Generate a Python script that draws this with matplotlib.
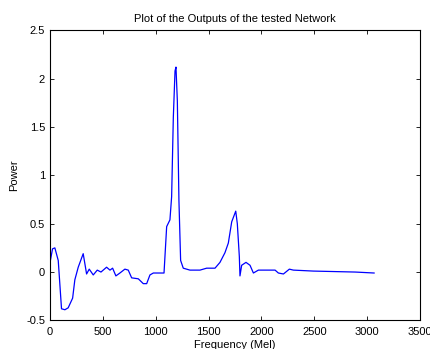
import matplotlib
matplotlib.use('Agg')
import matplotlib.pyplot as plt

# values
freq = [0, 25, 47, 79, 110, 142, 173, 215, 236, 268, 315, 347, 372, 410, 448,
        483, 536, 568, 593, 624, 662, 709, 741, 773, 836, 883, 915, 946, 978,
        1041, 1079, 1104, 1135, 1151, 1167, 1183, 1192, 1205, 1220, 1236, 1261,
        1324, 1419, 1482, 1561, 1608, 1655, 1687, 1719, 1757, 1772, 1791, 1797,
        1813, 1854, 1892, 1924, 1971, 2129, 2160, 2208, 2264, 2302, 2491, 2886,
        3065]
power = [0.09, 0.24, 0.25, 0.12, -0.38, -0.39, -0.37, -0.27, -0.08, 0.05, 0.19,
         -0.02, 0.03, -0.03, 0.02, 0.0, 0.05, 0.02, 0.04, -0.04, -0.01, 0.03,
         0.02, -0.06, -0.07, -0.12, -0.12, -0.03, -0.01, -0.01, -0.01, 0.47,
         0.54, 0.78, 1.6, 2.08, 2.12, 1.77, 0.74, 0.12, 0.04, 0.02, 0.02, 0.04,
         0.04, 0.1, 0.2, 0.3, 0.52, 0.63, 0.5, 0.16, -0.04, 0.07, 0.1, 0.07,
         -0.01, 0.02, 0.02, -0.01, -0.02, 0.03, 0.02, 0.01, 0.0, -0.01]

xticks = [0, 500, 1000, 1500, 2000, 2500, 3000, 3500]
yticks = [-0.5, 0, 0.5, 1, 1.5, 2, 2.5]
ytick_labels = ['-0.5', '0', '0.5', '1', '1.5', '2', '2.5']

plt.rcParams['font.family'] = ['Liberation Sans', 'DejaVu Sans']
fig = plt.figure(figsize=(4.30, 3.49), dpi=100)
ax = fig.add_axes([0.116, 0.082, 0.861, 0.831])
ax.plot(freq, power, color='blue', linewidth=0.9)
ax.set_xlim(0, 3500)
ax.set_ylim(-0.5, 2.5)
ax.set_xticks(xticks)
ax.set_yticks(yticks)
ax.set_yticklabels(ytick_labels)
ax.tick_params(direction='in', top=True, right=True, labelsize=8, length=3, width=0.6)
ax.tick_params(axis='x', pad=5)
for s in ax.spines.values():
    s.set_linewidth(0.8)
ax.set_title('Plot of the Outputs of the tested Network', fontsize=8, pad=6)
ax.set_xlabel('Frequency (Mel)', fontsize=8, labelpad=2)
ax.set_ylabel('Power', fontsize=8, labelpad=5)
fig.savefig('out.png', dpi=100)
